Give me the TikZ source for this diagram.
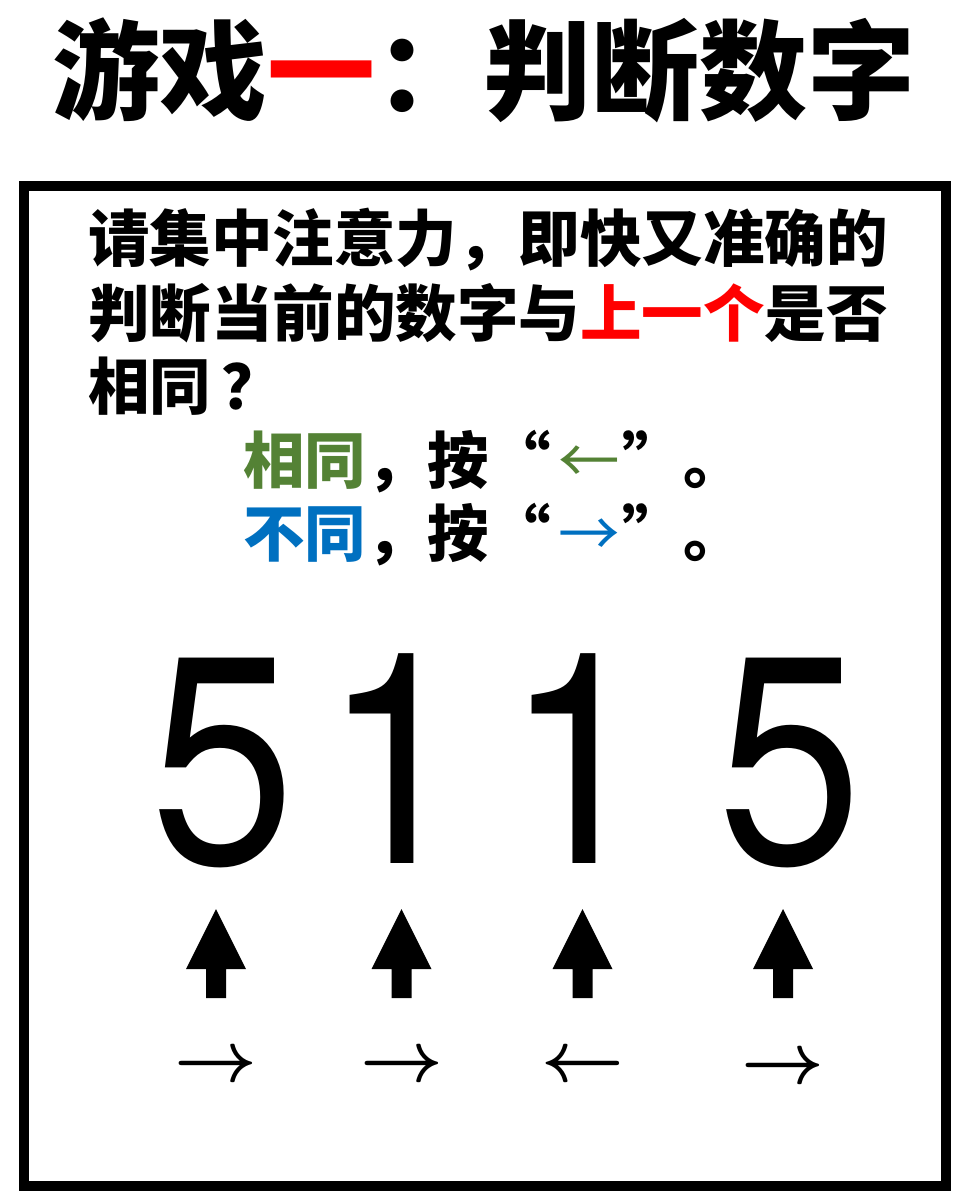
\RequirePackage{fix-cm}
\documentclass[tikz,border=0pt]{standalone}
\usepackage{fontspec}
\setmainfont{TeX Gyre Heros}
\newfontfamily\cjk{Noto Sans CJK SC}
\usepackage{tikz}
\usetikzlibrary{positioning}

\definecolor{same}{HTML}{548235}
\definecolor{diff}{HTML}{0070C0}

\begin{document}
\begin{tikzpicture}[x=1pt,y=-1pt,inner sep=0pt]
	\tikzset{txt/.style={font=\cjk\bfseries\fontsize{61.5}{61.5}\selectfont,anchor=west},
		digit/.style={font=\fontsize{296}{296}\selectfont,anchor=base},
		key/.style={font=\fontsize{72}{72}\selectfont\boldmath}}
	\useasboundingbox (0,0) rectangle (967,1203);
	\node[font=\cjk\bfseries\fontsize{108}{108}\selectfont] (title) at (484,70) {游戏\textcolor{red}{一}：判断数字};
	\draw[line width=10pt] (24,186) rectangle (946,1186);
	\node[txt] (l1) at (88,240) {请集中注意力，即快又准确的};
	\node[txt] (l2) at (88,313) {判断当前的数字与\textcolor{red}{上一个}是否};
	\node[txt] (l3) at (88,386) {相同\kern10pt？};
	\node[txt] (l4) at (243,462) {\textcolor{same}{相同}，按“\kern8pt\textcolor{same}{\mdseries ←}\kern2pt”。};
	\node[txt] (l5) at (243,535) {\textcolor{diff}{不同}，按“\kern8pt\textcolor{diff}{\mdseries →}\kern2pt”。};
	% digits
	\node[digit] (d1) at (223,863) {\scalebox{0.88}[1]{5}};
	\node[digit] (d2) at (396,863) {\scalebox{0.88}[1]{1}};
	\node[digit] (d3) at (578,863) {\scalebox{0.88}[1]{1}};
	\node[digit] (d4) at (790,863) {\scalebox{0.88}[1]{5}};
	% pointers
	\foreach \x in {216,401.5,582.5,783}
		\fill (\x,909) -- (\x+30,969) -- (\x+10,969) -- (\x+10,998)
			-- (\x-10,998) -- (\x-10,969) -- (\x-30,969) -- cycle;
	\node[key] (k1) at (216,1067) {$\rightarrow$};
	\node[key] (k2) at (401.5,1067) {$\rightarrow$};
	\node[key] (k3) at (582.5,1067) {$\leftarrow$};
	\node[key] (k4) at (783,1069) {$\rightarrow$};
\end{tikzpicture}
\end{document}
